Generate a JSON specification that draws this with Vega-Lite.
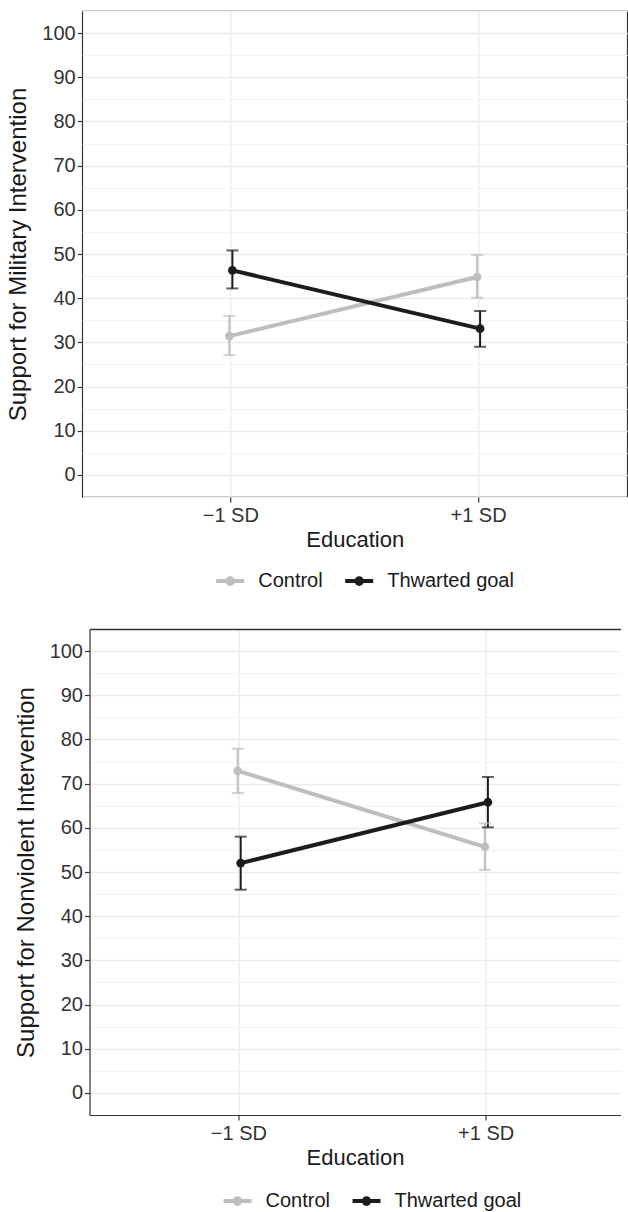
{
  "$schema": "https://vega.github.io/schema/vega-lite/v6.json",
  "background": "white",
  "padding": {"left": 6, "top": 10, "right": 0, "bottom": 0},
  "datasets": {
    "mil": [
      {"edu": "−1 SD", "cond": "Control", "mean": 31.4, "lo": 27.1, "hi": 36.0},
      {"edu": "+1 SD", "cond": "Control", "mean": 44.8, "lo": 40.1, "hi": 49.8},
      {"edu": "−1 SD", "cond": "Thwarted goal", "mean": 46.3, "lo": 42.2, "hi": 50.8},
      {"edu": "+1 SD", "cond": "Thwarted goal", "mean": 33.1, "lo": 29.0, "hi": 37.1}
    ],
    "non": [
      {"edu": "−1 SD", "cond": "Control", "mean": 72.9, "lo": 67.9, "hi": 77.9},
      {"edu": "+1 SD", "cond": "Control", "mean": 55.7, "lo": 50.5, "hi": 61.0},
      {"edu": "−1 SD", "cond": "Thwarted goal", "mean": 52.0, "lo": 46.0, "hi": 58.0},
      {"edu": "+1 SD", "cond": "Thwarted goal", "mean": 65.8, "lo": 60.1, "hi": 71.5}
    ]
  },
  "spacing": 36,
  "center": true,
  "resolve": {"legend": {"color": "independent"}},
  "vconcat": [
    {
      "width": 545,
      "height": 486,
      "data": {"name": "mil"},
      "encoding": {
        "x": {"field": "edu", "type": "nominal", "sort": ["−1 SD", "+1 SD"],
          "scale": {"type": "band", "paddingInner": 0, "paddingOuter": 0.1},
          "axis": {"title": "Education", "labelAngle": 0, "bandPosition": 0.5, "grid": true, "labelPadding": 3, "titlePadding": 4}},
        "xOffset": {"field": "cond", "type": "nominal", "sort": ["Control", "Thwarted goal"], "scale": {"type": "point", "range": [120.9, 126.9]}},
        "color": {"field": "cond", "type": "nominal",
          "scale": {"domain": ["Control", "Thwarted goal"], "range": ["#BEBEBE", "#1C1C1C"]},
          "legend": {"title": null, "orient": "none", "direction": "horizontal", "legendX": 132, "legendY": 554,
            "symbolType": "M-1,0H1M0.2,0A0.2,0.2,0,1,1,-0.2,0A0.2,0.2,0,1,1,0.2,0Z",
            "symbolSize": 784, "symbolStrokeWidth": 4, "symbolOpacity": 1, "labelOffset": 12, "columnPadding": 14}}
      },
      "resolve": {"axis": {"y": "independent"}},
      "layer": [
        {"mark": {"type": "rule", "strokeWidth": 2},
          "encoding": {"y": {"field": "lo", "type": "quantitative", "scale": {"domain": [-5, 105], "nice": false, "zero": false},
            "axis": {"title": "Support for Military Intervention", "values": [0,10,20,30,40,50,60,70,80,90,100], "grid": true, "labelPadding": 2, "titlePadding": 11}},
            "y2": {"field": "hi"}}},
        {"mark": {"type": "tick", "orient": "horizontal", "size": 12, "thickness": 2},
          "encoding": {"y": {"field": "lo", "type": "quantitative", "axis": null}}},
        {"mark": {"type": "tick", "orient": "horizontal", "size": 12, "thickness": 2},
          "encoding": {"y": {"field": "hi", "type": "quantitative", "axis": null}}},
        {"mark": {"type": "line", "strokeWidth": 4},
          "encoding": {"y": {"field": "mean", "type": "quantitative", "axis": null}}},
        {"mark": {"type": "point", "filled": true, "size": 75, "opacity": 1},
          "encoding": {"y": {"field": "mean", "type": "quantitative",
            "axis": {"orient": "right", "title": null, "labels": false, "ticks": false, "domain": false, "grid": true, "gridColor": "#F3F3F3", "gridWidth": 1, "values": [-5,5,15,25,35,45,55,65,75,85,95,105], "minExtent": 0, "maxExtent": 0}}}}
      ]
    },
    {
      "width": 531,
      "height": 486,
      "view": {"stroke": null},
      "data": {"name": "non"},
      "encoding": {
        "xOffset": {"field": "cond", "type": "nominal", "sort": ["Control", "Thwarted goal"], "scale": {"type": "point", "range": [120.6, 126.6]}},
        "color": {"field": "cond", "type": "nominal",
          "scale": {"domain": ["Control", "Thwarted goal"], "range": ["#BEBEBE", "#1C1C1C"]},
          "legend": {"title": null, "orient": "none", "direction": "horizontal", "legendX": 132, "legendY": 556,
            "symbolType": "M-1,0H1M0.2,0A0.2,0.2,0,1,1,-0.2,0A0.2,0.2,0,1,1,0.2,0Z",
            "symbolSize": 784, "symbolStrokeWidth": 4, "symbolOpacity": 1, "labelOffset": 12, "columnPadding": 14}}
      },
      "resolve": {"axis": {"x": "independent", "y": "independent"}},
      "layer": [
        {"mark": {"type": "rule", "strokeWidth": 2},
          "encoding": {
            "x": {"field": "edu", "type": "nominal", "sort": ["−1 SD", "+1 SD"],
              "scale": {"type": "band", "paddingInner": 0, "paddingOuter": 0.074, "align": 0.705},
              "axis": {"title": "Education", "labelAngle": 0, "bandPosition": 0.5, "grid": true, "labelPadding": 3, "titlePadding": 4, "domain": true, "domainColor": "#333333", "domainWidth": 1.2}},
            "y": {"field": "lo", "type": "quantitative", "scale": {"domain": [-5, 105], "nice": false, "zero": false},
              "axis": {"title": "Support for Nonviolent Intervention", "values": [0,10,20,30,40,50,60,70,80,90,100], "grid": true, "labelPadding": 2, "titlePadding": 11, "domain": true, "domainColor": "#333333", "domainWidth": 1.2}},
            "y2": {"field": "hi"}}},
        {"mark": {"type": "tick", "orient": "horizontal", "size": 12, "thickness": 2},
          "encoding": {
            "x": {"field": "edu", "type": "nominal", "sort": ["−1 SD", "+1 SD"], "axis": null},
            "y": {"field": "lo", "type": "quantitative", "axis": null}}},
        {"mark": {"type": "tick", "orient": "horizontal", "size": 12, "thickness": 2},
          "encoding": {
            "x": {"field": "edu", "type": "nominal", "sort": ["−1 SD", "+1 SD"], "axis": null},
            "y": {"field": "hi", "type": "quantitative", "axis": null}}},
        {"mark": {"type": "line", "strokeWidth": 4},
          "encoding": {
            "x": {"field": "edu", "type": "nominal", "sort": ["−1 SD", "+1 SD"], "axis": null},
            "y": {"field": "mean", "type": "quantitative", "axis": null}}},
        {"mark": {"type": "point", "filled": true, "size": 75, "opacity": 1},
          "encoding": {
            "x": {"field": "edu", "type": "nominal", "sort": ["−1 SD", "+1 SD"],
              "axis": {"orient": "top", "title": null, "labels": false, "ticks": false, "grid": false, "domain": true, "domainColor": "#333333", "domainWidth": 1.4, "minExtent": 0, "maxExtent": 0}},
            "y": {"field": "mean", "type": "quantitative",
              "axis": {"orient": "right", "title": null, "labels": false, "ticks": false, "domain": false, "grid": true, "gridColor": "#F3F3F3", "gridWidth": 1, "values": [-5,5,15,25,35,45,55,65,75,85,95,105], "minExtent": 0, "maxExtent": 0}}}}
      ]
    }
  ],
  "config": {
    "font": "Liberation Sans",
    "view": {"stroke": "#333333", "strokeWidth": 1.2},
    "axis": {
      "labelFont": "Liberation Sans", "labelFontSize": 20, "labelColor": "#333333",
      "titleFont": "Liberation Sans", "titleFontSize": 22, "titleFontWeight": "normal", "titleColor": "#1a1a1a",
      "tickColor": "#333333", "tickSize": 5, "tickWidth": 1.2, "domain": false,
      "gridColor": "#EBEBEB", "gridWidth": 1.4
    },
    "axisY": {"titleFontSize": 24},
    "legend": {"labelFont": "Liberation Sans", "labelFontSize": 20, "labelColor": "#1a1a1a"}
  }
}
